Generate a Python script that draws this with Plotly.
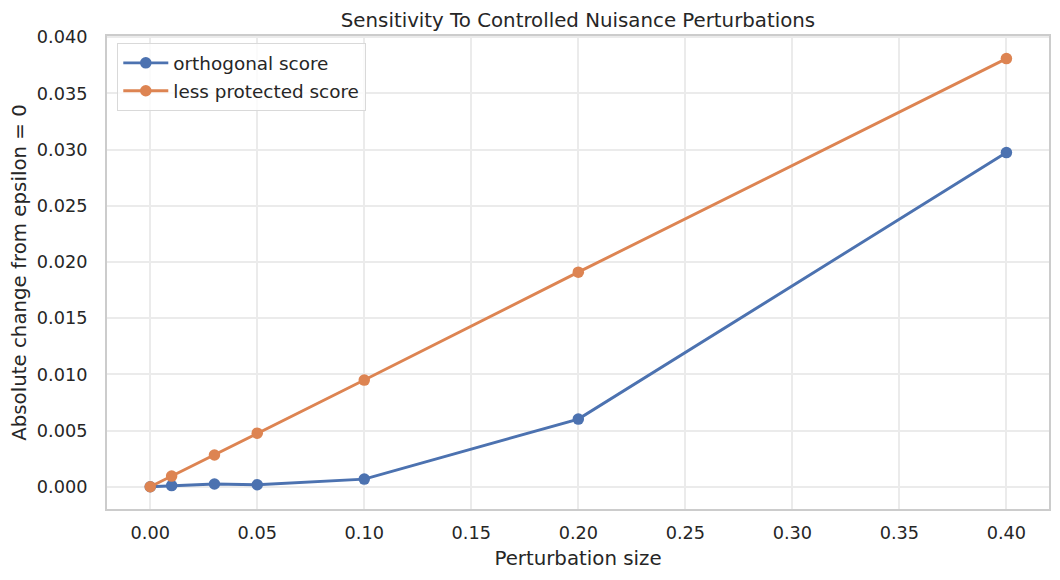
import plotly.graph_objects as go

eps = [0.0, 0.01, 0.03, 0.05, 0.10, 0.20, 0.40]
orthogonal = [0.0, 0.0001, 0.00024, 0.00018, 0.00068, 0.00602, 0.02973]
less_protected = [0.0, 0.00095, 0.00282, 0.00477, 0.00949, 0.01909, 0.03809]

x_ticks = [0.0, 0.05, 0.10, 0.15, 0.20, 0.25, 0.30, 0.35, 0.40]
y_ticks = [0.0, 0.005, 0.010, 0.015, 0.020, 0.025, 0.030, 0.035, 0.040]

font = "DejaVu Sans"
txt = "#262626"
fig = go.Figure()
fig.add_trace(go.Scatter(x=eps, y=orthogonal, mode="lines+markers", name="orthogonal score",
                         legendgroup="a",
                         line=dict(color="#4c72b0", width=2.9), marker=dict(size=11.5, color="#4c72b0")))
fig.add_trace(go.Scatter(x=eps, y=less_protected, mode="lines+markers", name="less protected score",
                         legendgroup="b",
                         line=dict(color="#dd8452", width=2.9), marker=dict(size=11.5, color="#dd8452")))

W, H = 1052, 572
fig.update_layout(
    width=W, height=H,
    margin=dict(l=96, r=9, t=28, b=71),
    paper_bgcolor="white", plot_bgcolor="white",
    font=dict(family=font, size=17.7, color=txt),
    title=dict(text="Sensitivity To Controlled Nuisance Perturbations", x=0.5, xref="paper",
               xanchor="center", y=1 - 12/H, yanchor="middle", font=dict(size=19.8, color=txt)),
    legend=dict(x=0.0106, y=0.985, xanchor="left", yanchor="top", bgcolor="rgba(255,255,255,0.8)",
                bordercolor="#d9d9d9", borderwidth=1.3, font=dict(size=18.4, color=txt),
                itemwidth=45, tracegroupgap=1),
    xaxis=dict(range=[-0.0202, 0.4199], tickvals=x_ticks, ticktext=[f"{v:.2f}" for v in x_ticks],
               showgrid=True, gridcolor="#ebebeb", gridwidth=1.5, zeroline=False,
               showline=True, linecolor="#cccccc", linewidth=2, mirror=True,
               ticks="outside", ticklen=7, tickcolor="rgba(0,0,0,0)",
               title=dict(text="Perturbation size", font=dict(size=19.8), standoff=9)),
    yaxis=dict(range=[-0.00198, 0.0401], tickvals=y_ticks, ticktext=[f"{v:.3f}" for v in y_ticks],
               showgrid=True, gridcolor="#ebebeb", gridwidth=1.5, zeroline=False,
               showline=True, linecolor="#cccccc", linewidth=2, mirror=True,
               ticks="outside", ticklen=14, tickcolor="rgba(0,0,0,0)",
               title=dict(text="Absolute change from epsilon = 0", font=dict(size=19.8), standoff=6)),
)
fig.write_html("out.html")
